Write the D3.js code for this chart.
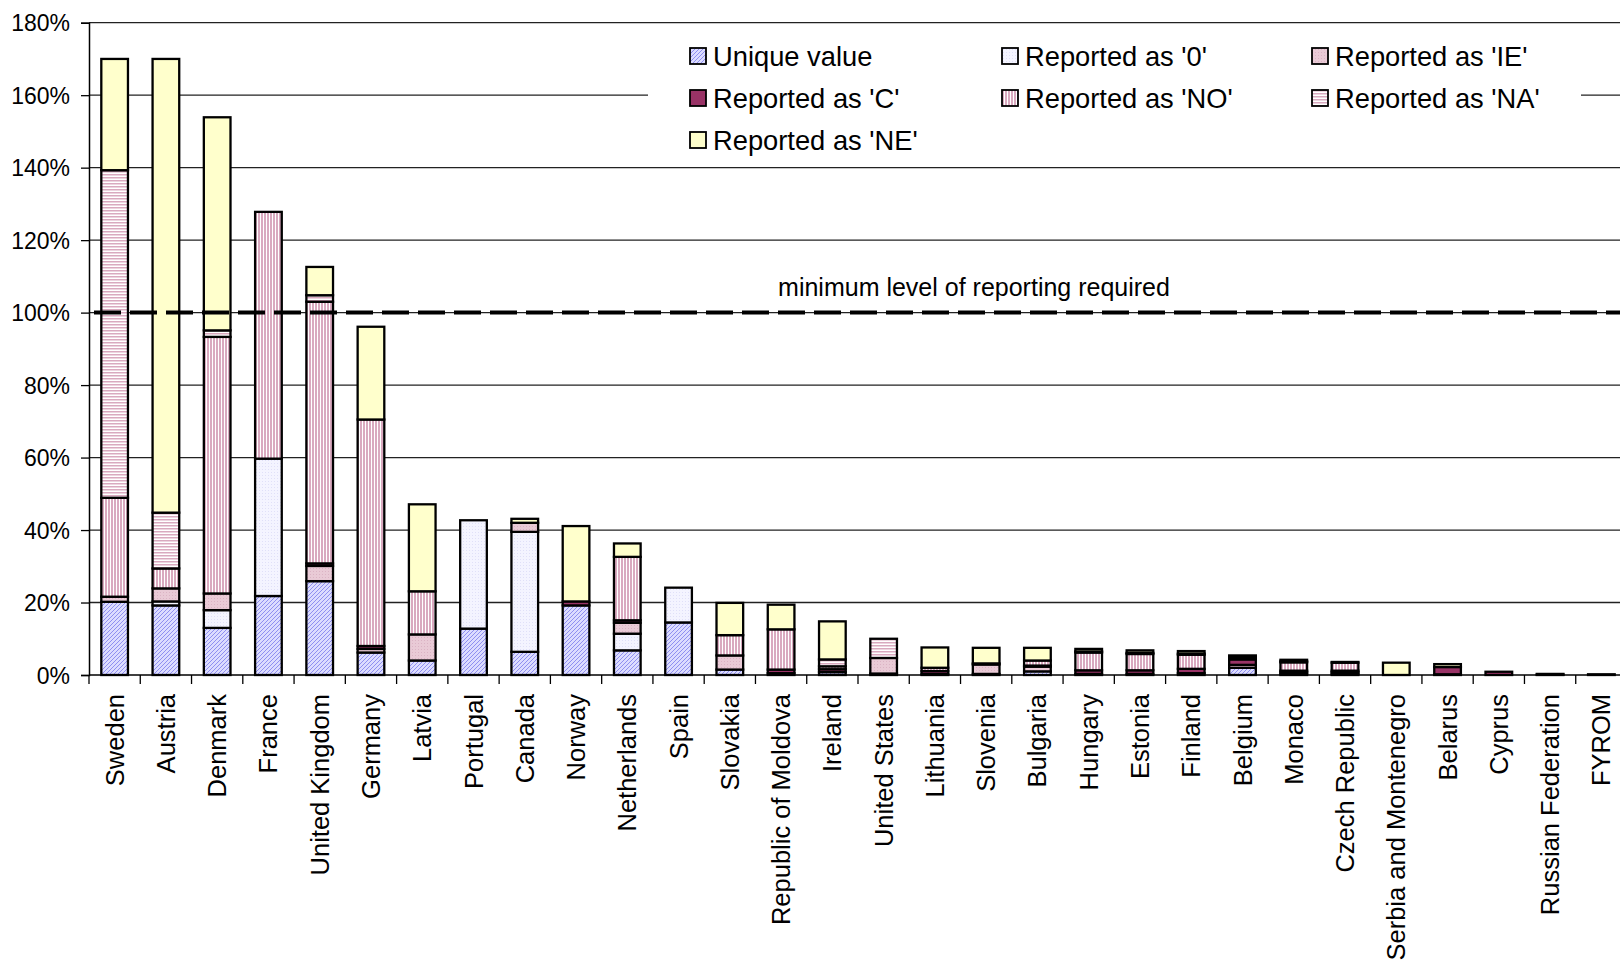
<!DOCTYPE html>
<html>
<head>
<meta charset="utf-8">
<script src="https://cdn.jsdelivr.net/npm/d3@7"></script>
<style>
  body { margin: 0; background: #fff; }
  svg { display: block; font-family: "Liberation Sans", Arial, sans-serif; }
</style>
</head>
<body>
<div id="chart"></div>
<script>
// Countries, in chart order
const countries = ["Sweden", "Austria", "Denmark", "France", "United Kingdom", "Germany", "Latvia",
  "Portugal", "Canada", "Norway", "Netherlands", "Spain", "Slovakia", "Republic of Moldova", "Ireland",
  "United States", "Lithuania", "Slovenia", "Bulgaria", "Hungary", "Estonia", "Finland", "Belgium",
  "Monaco", "Czech Republic", "Serbia and Montenegro", "Belarus", "Cyprus", "Russian Federation", "FYROM"];

// Share of reporting (%) per notation key, stacked from the bottom
const uniqueValue = [20.2, 19.2, 13.0, 21.8, 25.9, 6.2, 4.0, 12.8, 6.4, 19.2, 6.8, 14.5, 1.5, 0.5, 0.8, 0.4, 0.3, 0.3, 1.0, 0.3, 0.3, 0.5, 2.0, 0.3, 0.3, 0, 0.2, 0, 0.1, 0];
const reportedZero = [0, 1.1, 4.9, 37.9, 0, 0, 0, 29.9, 33.1, 0, 4.6, 9.6, 0, 0, 0, 0, 0, 0, 0, 0, 0, 0, 0, 0, 0, 0, 0, 0, 0, 0];
const reportedIE = [1.4, 3.6, 4.6, 0, 4.2, 1.0, 7.2, 0, 2.5, 0, 3.0, 0, 3.9, 0, 0, 4.3, 0, 2.6, 1.3, 0, 0, 0, 0.8, 0.5, 0.5, 0, 0, 0, 0, 0];
const reportedC = [0, 0, 0, 0, 0.7, 0.8, 0, 0, 0, 1.1, 0.7, 0, 0, 1.0, 0.8, 0, 0.8, 0.3, 0.3, 1.0, 1.0, 1.2, 1.5, 0.4, 0.4, 0, 2.0, 0.9, 0.2, 0.2];
const reportedNO = [27.3, 5.5, 70.8, 68.1, 72.2, 62.5, 11.9, 0, 0, 0, 17.5, 0, 5.6, 11.1, 0.8, 0, 0.9, 0, 1.4, 4.9, 4.5, 3.9, 0.6, 2.3, 2.2, 0, 0, 0, 0, 0];
const reportedNA = [90.4, 15.4, 1.8, 0, 1.8, 0, 0, 0, 0, 0, 0, 0, 0, 0, 1.9, 5.3, 0, 0, 0, 0.3, 0.3, 0.3, 0.5, 0.3, 0.2, 0, 0, 0, 0, 0];
const reportedNE = [30.7, 125.2, 58.8, 0, 7.8, 25.6, 24.0, 0, 1.1, 20.8, 3.7, 0, 8.9, 6.8, 10.5, 0, 5.6, 4.3, 3.5, 0.7, 0.7, 0.7, 0, 0.4, 0, 3.4, 0.8, 0, 0, 0];

const seriesNames = ["Unique value", "Reported as '0'", "Reported as 'IE'", "Reported as 'C'",
  "Reported as 'NO'", "Reported as 'NA'", "Reported as 'NE'"];
const seriesValues = [uniqueValue, reportedZero, reportedIE, reportedC, reportedNO, reportedNA, reportedNE];

const yTicks = [0, 20, 40, 60, 80, 100, 120, 140, 160, 180];
const thresholdValue = 100;
const thresholdLabel = "minimum level of reporting required";

const width = 1620, height = 961;
const margin = { top: 22.7, left: 89, bottom: 675 };
const plotRight = 1627; // plot runs a bit past the picture edge

const svg = d3.select("#chart").append("svg")
  .attr("width", width)
  .attr("height", height);

// Fill patterns
const defs = svg.append("defs");
const pat = (id, w, h, bg, draw) => {
  const p = defs.append("pattern").attr("id", id)
    .attr("patternUnits", "userSpaceOnUse").attr("width", w).attr("height", h);
  p.append("rect").attr("width", w).attr("height", h).attr("fill", bg);
  draw(p);
};
pat("p-unique", 4, 4, "#dcdcff", p => {
  p.append("path").attr("d", "M0,4 L4,0 M-1,1 L1,-1 M3,5 L5,3").attr("stroke", "#8f8ff0").attr("stroke-width", 1);
});
pat("p-zero", 3, 3, "#f4f4ff", p => {
  p.append("rect").attr("x", 1).attr("y", 1).attr("width", 1).attr("height", 1).attr("fill", "#e0e0f8");
});
pat("p-ie", 3, 3, "#e9cad6", p => {
  p.append("rect").attr("x", 1).attr("y", 1).attr("width", 1).attr("height", 1).attr("fill", "#dbb3c4");
});
pat("p-no", 3, 3, "#ffffff", p => {
  p.append("rect").attr("x", 0).attr("y", 0).attr("width", 2).attr("height", 3).attr("fill", "#d9a9bf");
});
pat("p-na", 3, 3, "#ffffff", p => {
  p.append("rect").attr("x", 0).attr("y", 0).attr("width", 3).attr("height", 1.5).attr("fill", "#d9a9bf");
});
const fills = ["url(#p-unique)", "url(#p-zero)", "url(#p-ie)", "#993366", "url(#p-no)", "url(#p-na)", "#ffffcc"];

// Scales
const x = d3.scaleBand().domain(countries).range([margin.left, plotRight]).padding(0);
const y = d3.scaleLinear().domain([0, 180]).range([margin.bottom, margin.top]);
const barWidth = x.bandwidth() * 0.52;

// Gridlines
svg.append("g")
  .selectAll("line")
  .data(yTicks.filter(d => d > 0))
  .join("line")
  .attr("x1", margin.left).attr("x2", width)
  .attr("y1", d => y(d)).attr("y2", d => y(d))
  .attr("stroke", "#222").attr("stroke-width", 1.3);

// Stack
const table = countries.map((c, i) => {
  const row = { country: c };
  seriesNames.forEach((s, k) => row[s] = seriesValues[k][i]);
  return row;
});
const stacked = d3.stack().keys(seriesNames)(table);

svg.append("g")
  .selectAll("g")
  .data(stacked)
  .join("g")
  .attr("fill", (d, k) => fills[k])
  .selectAll("rect")
  .data(d => d.filter(s => s[1] - s[0] > 0))
  .join("rect")
  .attr("x", d => x(d.data.country) + (x.bandwidth() - barWidth) / 2)
  .attr("y", d => y(d[1]))
  .attr("width", barWidth)
  .attr("height", d => y(d[0]) - y(d[1]))
  .attr("stroke", "#000")
  .attr("stroke-width", 2.3);

// Y axis
const yAxis = d3.axisLeft(y).tickValues(yTicks).tickSize(8).tickFormat(d => d + "%");
const yg = svg.append("g").attr("transform", `translate(${margin.left},0)`).call(yAxis);
yg.select(".domain").attr("stroke", "#000").attr("stroke-width", 1.5);
yg.selectAll(".tick line").attr("stroke", "#000").attr("stroke-width", 1.3);
yg.selectAll(".tick text")
  .attr("x", -19)
  .attr("dy", "0.36em")
  .attr("font-size", 23)
  .attr("fill", "#000")
  .attr("font-family", "Liberation Sans, Arial, sans-serif");

// X axis
svg.append("line")
  .attr("x1", margin.left).attr("x2", width)
  .attr("y1", y(0)).attr("y2", y(0))
  .attr("stroke", "#000").attr("stroke-width", 1.5);
svg.append("g")
  .selectAll("line")
  .data(countries)
  .join("line")
  .attr("x1", d => x(d)).attr("x2", d => x(d))
  .attr("y1", y(0)).attr("y2", y(0) + 9)
  .attr("stroke", "#000").attr("stroke-width", 1.3);
svg.append("g")
  .selectAll("text")
  .data(countries)
  .join("text")
  .attr("transform", d => `translate(${x(d) + x.bandwidth() / 2 + 9},${y(0) + 19}) rotate(-90)`)
  .attr("text-anchor", "end")
  .attr("font-size", 25.5)
  .attr("fill", "#000")
  .text(d => d);

// Legend (white box hides gridlines behind it)
const legend = svg.append("g");
legend.append("rect")
  .attr("x", 648).attr("y", 32).attr("width", 933).attr("height", 128)
  .attr("fill", "#fff");
const legendCols = [690, 1002, 1312];
const legendRows = [56, 98, 140];
seriesNames.forEach((s, k) => {
  const lx = legendCols[k % 3], ly = legendRows[Math.floor(k / 3)];
  legend.append("rect")
    .attr("x", lx).attr("y", ly - 8).attr("width", 16).attr("height", 16)
    .attr("fill", fills[k]).attr("stroke", "#000").attr("stroke-width", 1.8);
  legend.append("text")
    .attr("x", lx + 23).attr("y", ly)
    .attr("dy", "0.36em")
    .attr("font-size", 27.3)
    .attr("fill", "#000")
    .text(s);
});

// Threshold line
svg.append("line")
  .attr("x1", margin.left + 5).attr("x2", width)
  .attr("y1", y(thresholdValue)).attr("y2", y(thresholdValue))
  .attr("stroke", "#000").attr("stroke-width", 4)
  .attr("stroke-dasharray", "27,9");
svg.append("text")
  .attr("x", 974).attr("y", y(thresholdValue) - 17)
  .attr("text-anchor", "middle")
  .attr("font-size", 25)
  .attr("fill", "#000")
  .text(thresholdLabel);
</script>
</body>
</html>
